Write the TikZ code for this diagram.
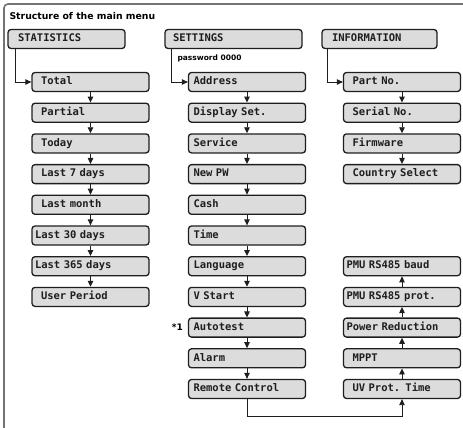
\documentclass[tikz,border=0pt]{standalone}
\usepackage{fontspec}
\setmonofont{DejaVu Sans Mono}
\newfontfamily\labelfont{DejaVu Sans}
\usetikzlibrary{
  arrows.meta,
  positioning
}
\definecolor{boxfill}{RGB}{220,220,220}
\definecolor{boxline}{RGB}{30,30,30}
\definecolor{framegray}{RGB}{115,115,115}

\begin{document}
\begin{tikzpicture}[x=1pt, y=-1pt,
  box/.style={draw=boxline, fill=boxfill, line width=1.3pt, rounded corners=3pt,
    minimum height=19pt, text height=8pt, text depth=2.5pt, align=left,
    font=\ttfamily\bfseries\fontsize{10.5}{12}\selectfont, text=boxline},
  item/.style={box, inner xsep=9pt, text width=99pt},
  itemmid/.style={box, inner xsep=5pt, text width=107pt},
  itemlong/.style={box, inner xsep=3pt, text width=111pt},
  link/.style={draw=boxline, line width=0.9pt, -{Triangle[length=6pt, width=5.5pt]}},
  note/.style={font=\labelfont\bfseries\fontsize{7.5}{9}\selectfont}]
  \useasboundingbox (0,0) rectangle (463,428);
  \draw[framegray, line width=1.6pt, rounded corners=4pt] (463,4) -- (4,4) -- (4,428);
  \node[anchor=west, font=\labelfont\bfseries\fontsize{9.3}{11}\selectfont] (title) at (6,16) {Structure of the main menu};

  \node[box, inner xsep=10pt, text width=97pt] (stat) at (66.5,39) {STATISTICS};
  \node[box, inner xsep=8pt, text width=121pt] (sett) at (233.5,39) {SETTINGS};
  \node[box, inner xsep=10pt, text width=95pt] (info) at (379.5,39) {INFORMATION};
  \node[note, anchor=west] (pwd) at (174,58) {password 0000};

  \node[item] (total) at (90.5,82) {Total};
  \node[item] (partial) at (90.5,112.7) {Partial};
  \node[item] (today) at (90.5,143.4) {Today};
  \node[item] (last7) at (90.5,174.1) {Last 7 days};
  \node[item] (lastmonth) at (90.5,204.8) {Last month};
  \node[itemlong] (last30) at (90.5,235.5) {Last 30 days};
  \node[itemlong] (last365) at (90.5,266.2) {Last 365 days};
  \node[item] (userper) at (90.5,296.9) {User Period};

  \node[itemmid] (address) at (247,82) {Address};
  \node[itemmid] (display) at (247,112.7) {Display Set.};
  \node[itemmid] (service) at (247,143.4) {Service};
  \node[itemmid] (newpw) at (247,174.1) {New PW};
  \node[itemmid] (cash) at (247,204.8) {Cash};
  \node[itemmid] (time) at (247,235.5) {Time};
  \node[itemmid] (language) at (247,266.2) {Language};
  \node[itemmid] (vstart) at (247,296.9) {V Start};
  \node[itemmid] (autotest) at (247,327.6) {Autotest};
  \node[itemmid] (alarm) at (247,358.3) {Alarm};
  \node[itemmid] (remote) at (247,389) {Remote Control};
  \node[anchor=east, font=\labelfont\bfseries\fontsize{9}{10}\selectfont] (star) at ([xshift=-1.5pt]autotest.west) {*1};

  \node[item] (partno) at (402,82) {Part No.};
  \node[item] (serialno) at (402,112.7) {Serial No.};
  \node[item] (firmware) at (402,143.4) {Firmware};
  \node[item] (country) at (402,174.1) {Country Select};
  \node[itemlong] (baud) at (402,266.2) {PMU RS485 baud};
  \node[itemlong] (prot) at (402,296.9) {PMU RS485 prot.};
  \node[itemlong] (powred) at (402,327.6) {Power Reduction};
  \node[item] (mppt) at (402,358.3) {MPPT};
  \node[item] (uvtime) at (402,389) {UV Prot. Time};

  \draw[link] ([xshift=8pt]stat.south west) |- (total.west);
  \draw[link] ([xshift=7pt]sett.south west) |- (address.west);
  \draw[link] ([xshift=6pt]info.south west) |- (partno.west);
  \foreach \a/\b in {total/partial, partial/today, today/last7, last7/lastmonth,
      lastmonth/last30, last30/last365, last365/userper,
      address/display, display/service, service/newpw, newpw/cash, cash/time,
      time/language, language/vstart, vstart/autotest, autotest/alarm, alarm/remote,
      partno/serialno, serialno/firmware, firmware/country,
      uvtime/mppt, mppt/powred, powred/prot, prot/baud}
    \draw[link] (\a) -- (\b);
  \draw[link] (remote.south) -- ++(0,17) -| (uvtime.south);
\end{tikzpicture}
\end{document}
